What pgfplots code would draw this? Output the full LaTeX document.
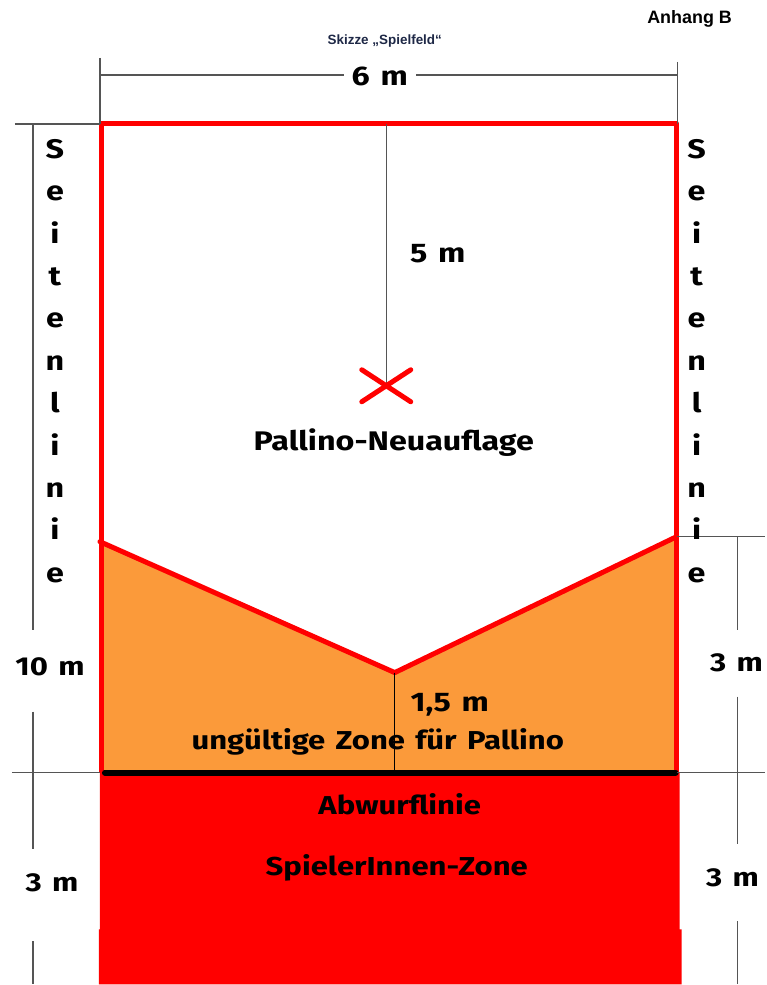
\documentclass[border=0pt]{standalone}
\usepackage{pgfplots}
\pgfplotsset{compat=1.18}
\usepackage{fontspec}
\setmainfont{Fira Sans}[FakeStretch=1.2, WordSpace=1.4]
\newfontfamily\arial{Liberation Sans}
\definecolor{zorange}{HTML}{FB9A3A}
\definecolor{zred}{HTML}{FF0000}
\definecolor{dimgray}{HTML}{555555}
\begin{document}
\begin{tikzpicture}
\begin{axis}[scale only axis, width=765bp, height=985bp,
  xmin=0, xmax=765, ymin=0, ymax=985, y dir=reverse,
  hide axis, clip=false]
\addplot[draw=none] coordinates {(0,0) (765,985)};
% red player zone
\addplot[fill=zred, draw=none] coordinates {(100,773) (680,773) (680,930) (682,930) (682,985) (99,985) (99,930) (100,930) (100,773)};
% orange invalid zone
\addplot[fill=zorange, draw=none] coordinates {(102,542) (395,673) (677,537) (677,773) (102,773) (102,542)};
% red outline
\addplot[zred, line width=5bp, line join=round] coordinates {(102,773) (102,124) (677,124) (677,773)};
\addplot[zred, line width=5bp, line join=round, line cap=round] coordinates {(100,542) (395,673) (677,537)};
% throw line
\addplot[black, line width=6bp, line cap=round] coordinates {(105,773) (676,773)};
% center lines
\addplot[dimgray, line width=1.2bp] coordinates {(387,124) (387,387)};
\addplot[black, line width=0.8bp] coordinates {(395,673) (395,773)};
% X mark
\addplot[zred, line width=5bp, line cap=round] coordinates {(362,370) (411,402)};
\addplot[zred, line width=5bp, line cap=round] coordinates {(362,402) (411,370)};
% top dimension
\addplot[dimgray, line width=1.2bp] coordinates {(100,75) (678,75)};
\addplot[dimgray, line width=1.2bp] coordinates {(100,58) (100,124)};
\addplot[dimgray, line width=1.2bp] coordinates {(678,62) (678,124)};
% left dimension
\addplot[dimgray, line width=1.2bp] coordinates {(15,124) (100,124)};
\addplot[dimgray, line width=1.2bp] coordinates {(12,773) (100,773)};
\addplot[dimgray, line width=1.2bp] coordinates {(33,124) (33,630)};
\addplot[dimgray, line width=1.2bp] coordinates {(33,712) (33,850)};
\addplot[dimgray, line width=1.2bp] coordinates {(33,942) (33,985)};
% right dimension
\addplot[dimgray, line width=1.2bp] coordinates {(677,537) (765,537)};
\addplot[dimgray, line width=1.2bp] coordinates {(677,773) (765,773)};
\addplot[dimgray, line width=1.2bp] coordinates {(738,537) (738,630)};
\addplot[dimgray, line width=1.2bp] coordinates {(738,697) (738,845)};
\addplot[dimgray, line width=1.2bp] coordinates {(738,922) (738,985)};
% texts
\node[font={\arial\bfseries\fontsize{18}{20}\selectfont}] at (axis cs:690,19) {Anhang B};
\node[font={\arial\bfseries\fontsize{13.5}{15}\selectfont}, text={rgb,255:red,30;green,40;blue,70}] at (axis cs:385,41) {Skizze „Spielfeld“};
\node[fill=white, inner xsep=8bp, font={\bfseries\fontsize{27}{30}\selectfont}] at (axis cs:380,77) {6 m};
\node[font={\bfseries\fontsize{27}{30}\selectfont}] at (axis cs:438,254) {5 m};
\node[font={\bfseries\fontsize{27}{30}\selectfont}] at (axis cs:394,443) {Pallino-Neuauflage};
\node[font={\bfseries\fontsize{27}{30}\selectfont}] at (axis cs:450,705) {1,5 m};
\node[font={\bfseries\fontsize{26}{30}\selectfont}] at (axis cs:378,742) {ungültige Zone für Pallino};
\node[font={\bfseries\fontsize{26}{30}\selectfont}] at (axis cs:400,805) {Abwurflinie};
\node[font={\bfseries\fontsize{26}{30}\selectfont}] at (axis cs:397,868) {SpielerInnen-Zone};
\node[font={\bfseries\fontsize{26}{30}\selectfont}] at (axis cs:50,667) {10 m};
\node[font={\bfseries\fontsize{26}{30}\selectfont}] at (axis cs:52,883) {3 m};
\node[font={\bfseries\fontsize{26}{30}\selectfont}] at (axis cs:737,663) {3 m};
\node[font={\bfseries\fontsize{26}{30}\selectfont}] at (axis cs:733,878) {3 m};
\node[font={\bfseries\fontsize{27}{42.6}\selectfont}, align=center, anchor=north, inner sep=0pt] at (axis cs:55,139) {S\\e\\i\\t\\e\\n\\l\\i\\n\\i\\e};
\node[font={\bfseries\fontsize{27}{42.6}\selectfont}, align=center, anchor=north, inner sep=0pt] at (axis cs:697,139) {S\\e\\i\\t\\e\\n\\l\\i\\n\\i\\e};
\end{axis}
\end{tikzpicture}
\end{document}
